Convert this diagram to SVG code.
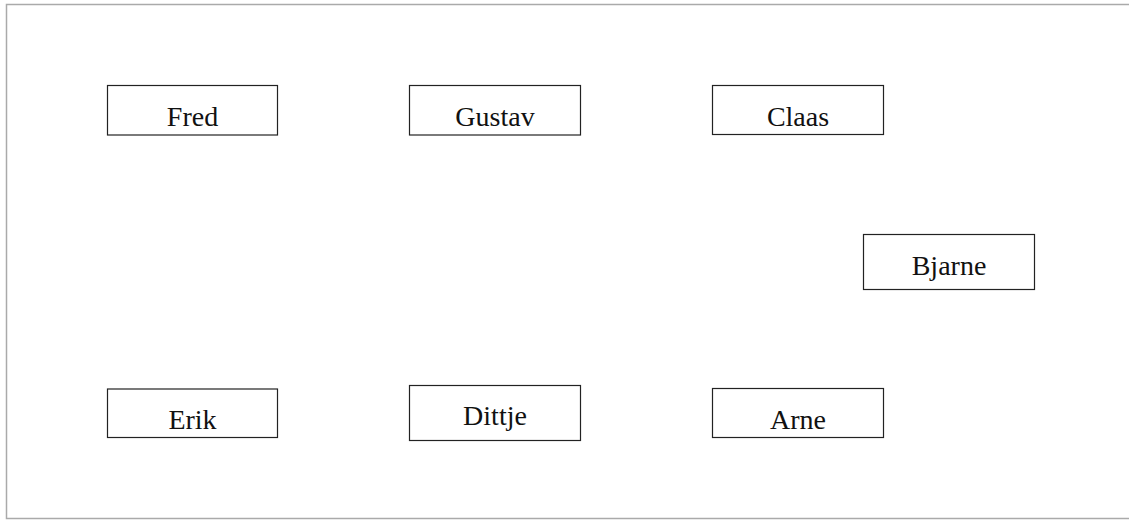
<svg xmlns="http://www.w3.org/2000/svg" width="1129" height="520" viewBox="0 0 1129 520">
<style>
.frame{fill:none;stroke:#aaaaaa;stroke-width:1.5}
.box{fill:#ffffff;stroke:#222222;stroke-width:1.2}
.lbl{font-family:"Liberation Serif","DejaVu Serif",serif;font-size:28px;fill:#111111;text-anchor:middle}
</style>
<rect x="0" y="0" width="1129" height="520" fill="#ffffff"/>
<rect class="frame" x="6.5" y="4.5" width="1140" height="514"/>
<g id="connectors"></g>
<g id="Fred"><rect class="box" x="107.5" y="85.5" width="170" height="49.5"/><text class="lbl" x="192.5" y="125.5">Fred</text></g>
<g id="Gustav"><rect class="box" x="409.5" y="85.5" width="171" height="49.5"/><text class="lbl" x="495" y="125.5">Gustav</text></g>
<g id="Claas"><rect class="box" x="712.5" y="85.5" width="171" height="49"/><text class="lbl" x="798" y="125.5">Claas</text></g>
<g id="Bjarne"><rect class="box" x="863.5" y="234.5" width="171" height="55"/><text class="lbl" x="949" y="274.5">Bjarne</text></g>
<g id="Erik"><rect class="box" x="107.5" y="389" width="170" height="48.5"/><text class="lbl" x="192.5" y="429">Erik</text></g>
<g id="Dittje"><rect class="box" x="409.5" y="385.5" width="171" height="55"/><text class="lbl" x="495" y="425">Dittje</text></g>
<g id="Arne"><rect class="box" x="712.5" y="388.5" width="171" height="49"/><text class="lbl" x="798" y="429">Arne</text></g>
</svg>
